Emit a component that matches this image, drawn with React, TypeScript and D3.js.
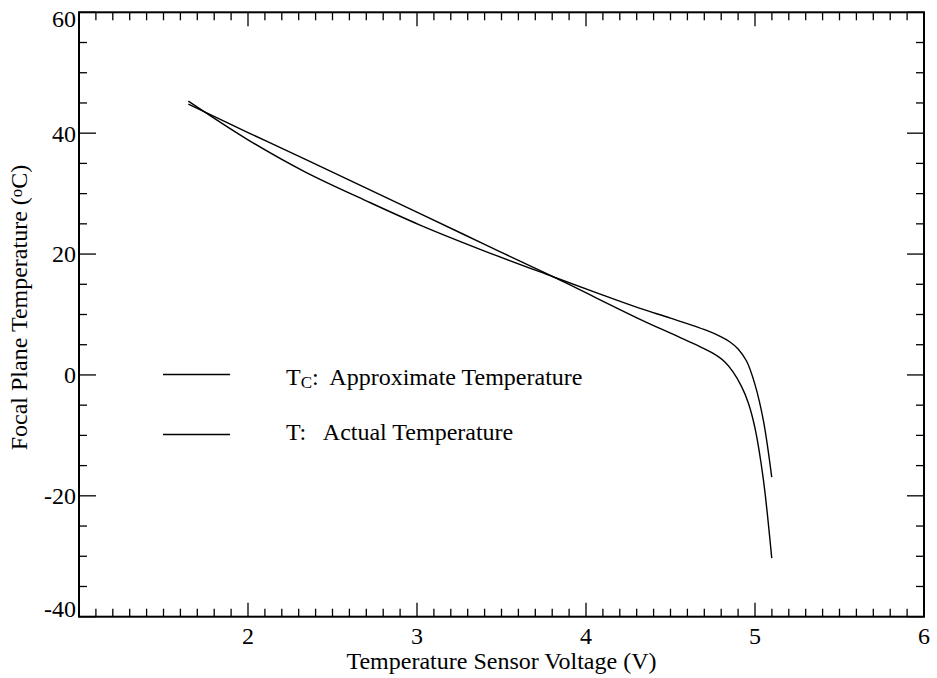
import React from "react";
import * as d3 from "d3";

const xTickLabels = [2, 3, 4, 5, 6];
const yTickLabels = [-40, -20, 0, 20, 40, 60];

// T_C: Approximate Temperature (convex curve, ends near -17)
const approxX = [1.647, 2.0, 2.337, 2.7, 3.018, 3.4, 3.805, 4.1, 4.32, 4.5, 4.71, 4.8, 4.85, 4.9, 4.95, 5.0, 5.05, 5.099];
const approxY = [45.3, 38.9, 33.6, 28.8, 24.8, 20.5, 16.25, 13.2, 11.0, 9.4, 7.4, 6.3, 5.5, 4.3, 2.3, -1.6, -7.6, -16.9];

// T: Actual Temperature (nearly straight, ends near -30)
const actualX = [1.647, 2.0, 2.337, 3.018, 3.4, 3.805, 4.32, 4.5, 4.65, 4.75, 4.82, 4.87, 4.92, 4.96, 5.0, 5.049, 5.099];
const actualY = [44.8, 40.1, 35.7, 26.7, 21.6, 16.25, 9.2, 6.9, 5.0, 3.6, 2.2, 0.5, -1.9, -4.6, -8.8, -17.2, -30.3];

const W = 937;
const H = 678;
const L = 79, R = 924, T = 12.3, B = 616.7;
const FONT = "'Liberation Serif', 'Times New Roman', serif";
const FS = 24;

export default function App() {
  const x = d3.scaleLinear().domain([1, 6]).range([L, R]);
  const y = d3.scaleLinear().domain([-40, 60]).range([B, T]);

  const line = d3
    .line<[number, number]>()
    .x((d) => x(d[0]))
    .y((d) => y(d[1]))
    .curve(d3.curveCatmullRom.alpha(0.5));

  const approx: [number, number][] = approxX.map((v, i) => [v, approxY[i]]);
  const actual: [number, number][] = actualX.map((v, i) => [v, actualY[i]]);

  const xMinor = d3.range(1, 6.0001, 0.1).map((v) => Math.round(v * 10) / 10);
  const yMinor = d3.range(-40, 60.0001, 5);

  const tickColor = "#000";
  const majX = 14, minX = 8, majY = 17, minY = 8;

  return (
    <svg
      width={W}
      height={H}
      style={{ position: "absolute", left: 0, top: 0, background: "#fff" }}
      fontFamily={FONT}
    >
      {/* x ticks bottom & top */}
      {xMinor.map((v, i) => {
        const major = Math.abs(v - Math.round(v)) < 1e-6;
        const len = major ? majX : minX;
        return (
          <g key={"xt" + i} stroke={tickColor} strokeWidth={1.3}>
            <line x1={x(v)} x2={x(v)} y1={B} y2={B - len} />
            <line x1={x(v)} x2={x(v)} y1={T} y2={T + len} />
          </g>
        );
      })}
      {/* y ticks left & right */}
      {yMinor.map((v, i) => {
        const major = v % 20 === 0;
        const len = major ? majY : minY;
        return (
          <g key={"yt" + i} stroke={tickColor} strokeWidth={1.3}>
            <line x1={L} x2={L + len} y1={y(v)} y2={y(v)} />
            <line x1={R} x2={R - len} y1={y(v)} y2={y(v)} />
          </g>
        );
      })}
      {/* frame */}
      <rect x={L} y={T} width={R - L} height={B - T} fill="none" stroke="#000" strokeWidth={2} />

      {/* x tick labels */}
      {xTickLabels.map((v) => (
        <text key={"xl" + v} x={x(v)} y={B + 27} textAnchor="middle" fontSize={FS} fill="#000">
          {v}
        </text>
      ))}
      {/* y tick labels */}
      {yTickLabels.map((v, i) => {
        const shift = i === 0 ? -8 : i === yTickLabels.length - 1 ? 6 : 0;
        return (
          <text
            key={"yl" + v}
            x={L - 3}
            y={y(v) + shift}
            dy="0.35em"
            textAnchor="end"
            fontSize={FS}
            fill="#000"
          >
            {v}
          </text>
        );
      })}

      {/* axis titles */}
      <text x={(L + R) / 2} y={669} textAnchor="middle" fontSize={FS} fill="#000">
        Temperature Sensor Voltage (V)
      </text>
      <text
        transform={`translate(27, ${(T + B) / 2 - 7}) rotate(-90)`}
        textAnchor="middle"
        fontSize={FS}
        fill="#000"
      >
        Focal Plane Temperature (<tspan fontSize={17} dy={-5}>o</tspan>
        <tspan dy={5}>C)</tspan>
      </text>

      {/* curves */}
      <path d={line(approx) ?? ""} fill="none" stroke="#000" strokeWidth={1.4} />
      <path d={line(actual) ?? ""} fill="none" stroke="#000" strokeWidth={1.4} />

      {/* legend */}
      <line x1={163} x2={230} y1={374.5} y2={374.5} stroke="#000" strokeWidth={1.4} />
      <text x={286} y={385} fontSize={FS} fill="#000" style={{ whiteSpace: "pre" }}>
        T<tspan fontSize={17} dy={3}>C</tspan>
        <tspan dy={-3}>{":  Approximate Temperature"}</tspan>
      </text>
      <line x1={163} x2={230} y1={434.5} y2={434.5} stroke="#000" strokeWidth={1.4} />
      <text x={286} y={440} fontSize={FS} fill="#000" style={{ whiteSpace: "pre" }}>
        {"T:   Actual Temperature"}
      </text>
    </svg>
  );
}
